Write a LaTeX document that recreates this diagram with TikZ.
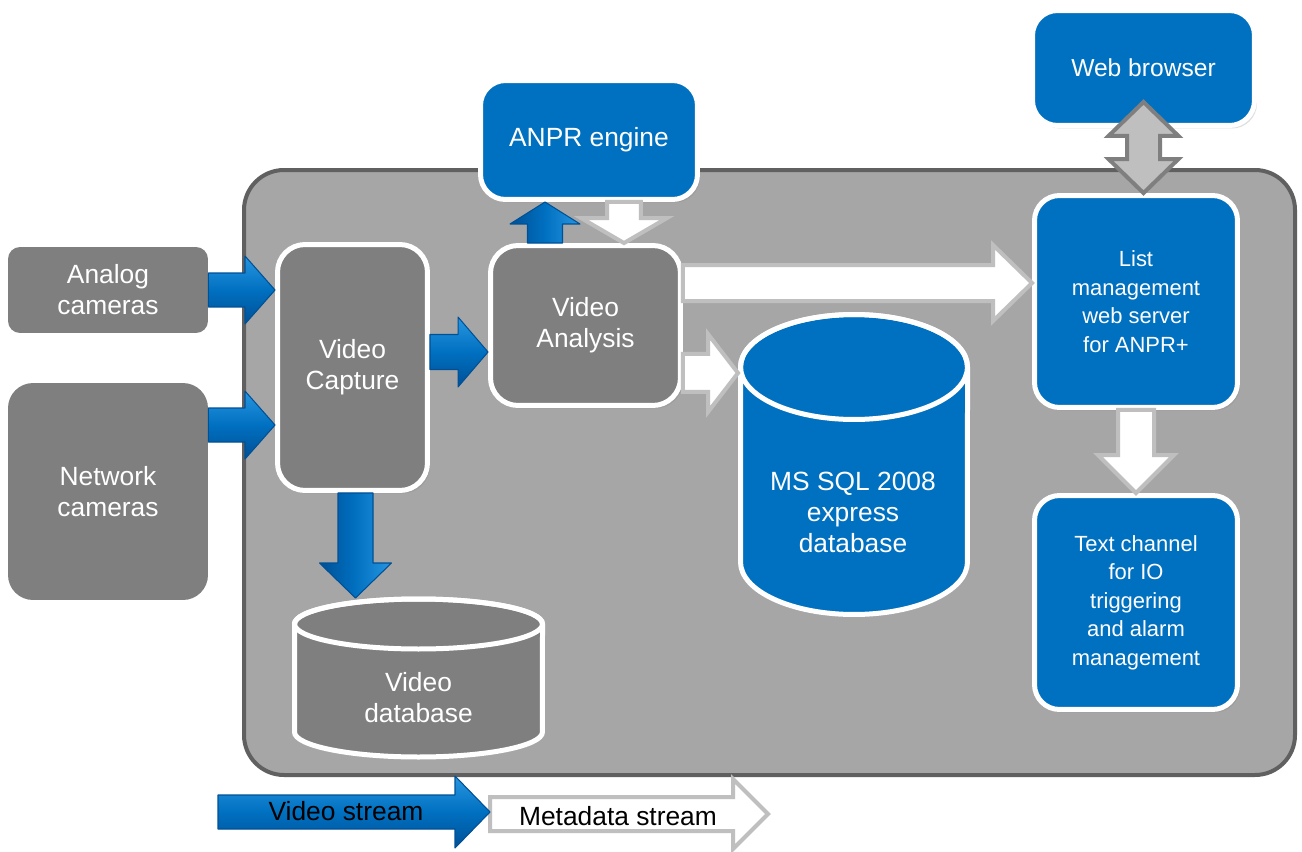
\documentclass[tikz,border=0pt]{standalone}
\usepackage{fontspec}
\setmainfont{Liberation Sans}
\usetikzlibrary{calc,shadows}

\definecolor{anprblue}{RGB}{0,112,192}
\definecolor{bluedark}{RGB}{0,80,150}
\definecolor{bluelight}{RGB}{40,150,225}
\definecolor{boxgray}{RGB}{127,127,127}
\definecolor{panelgray}{RGB}{166,166,166}
\definecolor{paneledge}{RGB}{96,96,96}
\definecolor{metaedge}{RGB}{191,191,191}

\newcommand{\boxfont}{\fontsize{15}{17.6}\selectfont}
\newcommand{\listfont}{\fontsize{12.5}{16.2}\selectfont}

\tikzset{
  % block arrow: half shaft, half head, head length
  block/.style n args={3}{to path={
    let \p1=(\tikztostart), \p2=(\tikztotarget), \p3=($(\p2)!#3!(\p1)$) in
    ($(\p1)!#1!90:(\p2)$) -- ($(\p3)!#1!90:(\p2)$) -- ($(\p3)!#2!90:(\p2)$) -- (\p2)
    -- ($(\p3)!#2!-90:(\p2)$) -- ($(\p3)!#1!-90:(\p2)$) -- ($(\p1)!#1!-90:(\p2)$) -- cycle}},
  dblock/.style n args={3}{to path={
    let \p1=(\tikztostart), \p2=(\tikztotarget), \p3=($(\p2)!#3!(\p1)$), \p4=($(\p1)!#3!(\p2)$) in
    (\p1) -- ($(\p4)!#2!90:(\p2)$) -- ($(\p4)!#1!90:(\p2)$) -- ($(\p3)!#1!90:(\p2)$) -- ($(\p3)!#2!90:(\p2)$) -- (\p2)
    -- ($(\p3)!#2!-90:(\p2)$) -- ($(\p3)!#1!-90:(\p2)$) -- ($(\p4)!#1!-90:(\p2)$) -- ($(\p4)!#2!-90:(\p2)$) -- cycle}},
  videoflow/.style={draw=bluedark, line width=0.6pt, line join=round, top color=bluelight, bottom color=bluedark, middle color=anprblue},
  videodown/.style={draw=bluedark, line width=0.6pt, line join=round, left color=bluedark, right color=bluelight, middle color=anprblue},
  metaflow/.style={fill=white, draw=metaedge, line width=0.08cm},
  swapflow/.style={fill=metaedge, draw=boxgray, line width=0.08cm},
  panel/.style={fill=panelgray, draw=paneledge, line width=0.08cm, rounded corners=0.8cm},
  camera/.style={fill=boxgray, text=white, align=center, font=\boxfont},
  stage/.style={fill=boxgray, draw=white, line width=0.1cm, rounded corners=0.55cm, text=white, align=center, font=\boxfont,
    drop shadow={opacity=0.25, shadow xshift=0.05cm, shadow yshift=-0.06cm}},
  service/.style={fill=anprblue, draw=white, line width=0.1cm, rounded corners=0.5cm, text=white, align=center, font=\boxfont,
    drop shadow={opacity=0.25, shadow xshift=0.05cm, shadow yshift=-0.06cm}},
  dbtext/.style={text=white, align=center, font=\boxfont},
  legendtext/.style={text=black, font=\boxfont}
}

\begin{document}
\begin{tikzpicture}[x=0.02cm,y=-0.02cm]
  \fill[white] (0,0) rectangle (1302,852);
  \useasboundingbox (0,0) rectangle (1302,852);

  % system panel
  \draw[panel] (244,170) rectangle (1295,775);

  % sources
  \node[camera, minimum width=4cm, minimum height=1.72cm, rounded corners=0.24cm] (ana) at (108,290) {Analog\\cameras};
  \node[camera, minimum width=4cm, minimum height=4.34cm, rounded corners=0.5cm] (net) at (108,491.5) {Network\\cameras};

  % processing
  \node[stage, minimum width=3cm, minimum height=4.92cm] (cap) at (352.5,367.5) {Video\\Capture};
  \node[stage, minimum width=3.8cm, minimum height=3.2cm] (va) at (585.5,325.5) {Video\\Analysis};
  \node[service, minimum width=4.34cm, minimum height=2.38cm] (anpr) at (589,140) {ANPR engine};
  \node[service, minimum width=4.44cm, minimum height=2.3cm, font=\fontsize{14}{16}\selectfont] (web) at (1143.5,68) {Web browser};
  \node[service, minimum width=4.06cm, minimum height=4.24cm, font=\listfont] (lst) at (1136,301.5) {List\\management\\web server\\for ANPR+};
  \node[service, minimum width=4.06cm, minimum height=4.28cm, font=\listfont] (txt) at (1136,602.5) {Text channel\\for IO\\triggering\\and alarm\\management};

  % databases
  \path[fill=anprblue, draw=white, line width=0.1cm] (740.5,367) -- (740.5,562)
    arc[start angle=180, end angle=360, x radius=2.27cm, y radius=1.05cm] -- (967.5,367)
    arc[start angle=0, end angle=180, x radius=2.27cm, y radius=1.05cm] -- cycle;
  \draw[white, line width=0.1cm] (854,367) ellipse[x radius=2.27cm, y radius=1.05cm];
  \node[dbtext] (sql) at (853,512) {MS SQL 2008\\express\\database};
  \coordinate (sqlside) at (738,367);

  \path[fill=boxgray, draw=white, line width=0.1cm] (294.5,624) -- (294.5,732)
    arc[start angle=180, end angle=360, x radius=2.48cm, y radius=0.5cm] -- (542.5,624)
    arc[start angle=0, end angle=180, x radius=2.48cm, y radius=0.5cm] -- cycle;
  \draw[white, line width=0.1cm] (418.5,624) ellipse[x radius=2.48cm, y radius=0.5cm];
  \node[dbtext] (vdb) at (418.5,698) {Video\\database};
  \coordinate (vdbtop) at (355.5,598);

  % video stream
  \draw[videoflow, block={0.34cm}{0.68cm}{0.6cm}] (ana.east) to (ana.east -| cap.west);
  \draw[videoflow, block={0.34cm}{0.68cm}{0.6cm}] ([yshift=1.33cm]net.east) to ([yshift=1.33cm]net.east -| cap.west);
  \draw[videoflow, block={0.35cm}{0.7cm}{0.6cm}] ([yshift=0.31cm]cap.east) to ([yshift=0.31cm]cap.east -| va.west);
  \draw[videodown, block={0.35cm}{0.7cm}{0.44cm}] ([xshift=-0.81cm]va.north) to ([xshift=-0.81cm]va.north |- anpr.south);
  \draw[videodown, block={0.35cm}{0.72cm}{0.7cm}] ([xshift=0.06cm]cap.south) to (vdbtop);

  % metadata stream
  \draw[metaflow, block={0.34cm}{0.86cm}{0.5cm}] ([xshift=0.7cm]anpr.south) to ([xshift=0.7cm]anpr.south |- va.north);
  \draw[metaflow, block={0.36cm}{0.76cm}{0.78cm}] ([yshift=0.85cm]va.east) to ([yshift=0.85cm]va.east -| lst.west);
  \draw[metaflow, block={0.38cm}{0.78cm}{0.6cm}] ([yshift=-0.95cm]va.east) to ([yshift=-0.95cm]va.east -| sqlside);
  \draw[metaflow, block={0.36cm}{0.76cm}{0.76cm}] (lst.south) to (txt.north);
  \draw[swapflow, dblock={0.33cm}{0.7cm}{0.68cm}] ([yshift=0.52cm]web.south) to (web.south |- lst.north);

  % legend
  \coordinate (ms0) at (490,814);
  \coordinate (ms1) at (768,814);
  \draw[metaflow, block={0.34cm}{0.7cm}{0.7cm}] (ms0) to (ms1);
  \node[legendtext] (mstext) at (618,816) {Metadata stream};
  \coordinate (vs0) at (218,812);
  \coordinate (vs1) at (490,812);
  \draw[videoflow, block={0.34cm}{0.72cm}{0.7cm}] (vs0) to (vs1);
  \node[legendtext] (vstext) at (346,811) {Video stream};
\end{tikzpicture}
\end{document}
